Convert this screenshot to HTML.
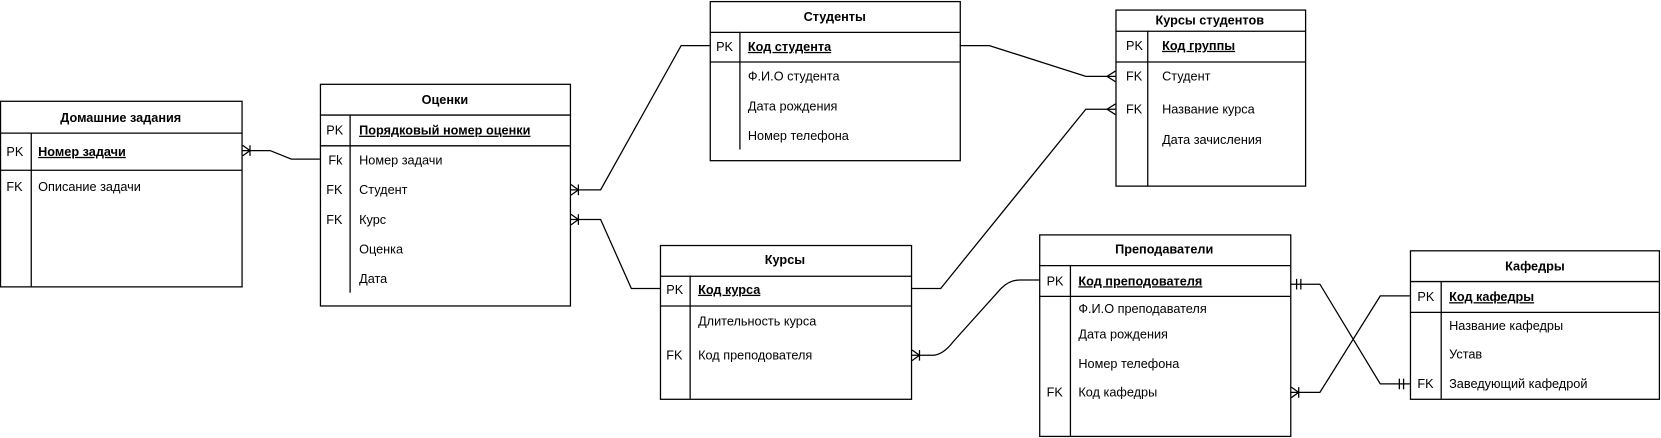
<!DOCTYPE html>
<html><head><meta charset="utf-8"><style>
html,body{margin:0;padding:0;background:#fff}
svg{display:block}
text{font-family:"Liberation Sans","Noto Sans CJK SC",sans-serif;font-size:12px;fill:#000}
.t{font-weight:bold;text-anchor:middle}
.pk{font-weight:bold;text-decoration:underline}
</style></head><body>
<svg width="1661" height="438" viewBox="0 0 1568 413" preserveAspectRatio="none" xmlns="http://www.w3.org/2000/svg">
<g fill="#fff" stroke="#000" stroke-width="1.2">
<rect x="0.5" y="95.5" width="228" height="175"/>
<line x1="0" y1="125.5" x2="228" y2="125.5"/><line x1="0" y1="160.5" x2="228" y2="160.5"/>
<line x1="29.5" y1="125" x2="29.5" y2="270"/>
<rect x="302.5" y="79.5" width="236" height="209"/>
<line x1="302" y1="108.5" x2="538" y2="108.5"/><line x1="302" y1="137.5" x2="538" y2="137.5"/>
<line x1="330.5" y1="108" x2="330.5" y2="276"/>
<rect x="670.5" y="1.5" width="236" height="150"/>
<line x1="670" y1="30.5" x2="906" y2="30.5"/><line x1="670" y1="58.5" x2="906" y2="58.5"/>
<line x1="698.5" y1="30" x2="698.5" y2="141"/>
<rect x="1053.5" y="9.5" width="179" height="166"/>
<line x1="1053" y1="29.5" x2="1232" y2="29.5"/><line x1="1053" y1="58.5" x2="1232" y2="58.5"/>
<line x1="1083.5" y1="29" x2="1083.5" y2="175"/>
<rect x="623.5" y="231.5" width="237" height="145"/>
<line x1="623" y1="260.5" x2="860" y2="260.5"/><line x1="623" y1="288.5" x2="860" y2="288.5"/>
<line x1="651.5" y1="260" x2="651.5" y2="376"/>
<rect x="981.5" y="221.5" width="237" height="190"/>
<line x1="981" y1="250.5" x2="1218" y2="250.5"/><line x1="981" y1="279.5" x2="1218" y2="279.5"/>
<line x1="1010.5" y1="250" x2="1010.5" y2="411"/>
<rect x="1331.5" y="236.5" width="235" height="140"/>
<line x1="1331" y1="265.5" x2="1566" y2="265.5"/><line x1="1331" y1="294.5" x2="1566" y2="294.5"/>
<line x1="1360.5" y1="265" x2="1360.5" y2="376"/>
</g>
<g fill="none" stroke="#000" stroke-width="1.2">
<polyline points="228,142 255,142 275,150 302,150"/>
<path d="M229,137 L236,142 L229,147 M236,137 V147"/>
<polyline points="538,179 567,179 643,43 670,43"/>
<path d="M539,174 L546,179 L539,184 M546,174 V184"/>
<polyline points="538,207 567,207 596,272 623,272"/>
<path d="M539,202 L546,207 L539,212 M546,202 V212"/>
<polyline points="906,43 934,43 1025,72 1053,72"/>
<path d="M1053,67 L1045,72 L1053,77"/>
<polyline points="860,272 888,272 1025,103 1053,103"/>
<path d="M1053,98 L1045,103 L1053,108"/>
<path d="M860,335 H880 Q890,335 900,322 L945,272 Q953,264 963,264 H981"/>
<path d="M861,330 L868,335 L861,340 M868,330 V340"/>
<polyline points="1218,268 1246,268 1303,362 1331,362"/>
<path d="M1224,263 V273 M1228,263 V273 M1325,357 V367 M1321,357 V367"/>
<polyline points="1218,370 1246,370 1303,279 1331,279"/>
<path d="M1219,365 L1226,370 L1219,375 M1226,365 V375"/>
</g>
<text class="t" x="114" y="115">Домашние задания</text>
<text x="6" y="147">PK</text><text class="pk" x="36" y="147">Номер задачи</text>
<text x="6" y="180">FK</text><text x="36" y="180">Описание задачи</text>

<text class="t" x="420" y="98">Оценки</text>
<text x="308" y="127">PK</text><text class="pk" x="339" y="127">Порядковый номер оценки</text>
<text x="310" y="155">Fk</text><text x="339" y="155">Номер задачи</text>
<text x="308" y="183">FK</text><text x="339" y="183">Студент</text>
<text x="308" y="211">FK</text><text x="339" y="211">Курс</text>
<text x="339" y="239">Оценка</text>
<text x="339" y="267">Дата</text>

<text class="t" x="788" y="20">Студенты</text>
<text x="676" y="48">PK</text><text class="pk" x="706" y="48">Код студента</text>
<text x="706" y="76">Ф.И.О студента</text>
<text x="706" y="104">Дата рождения</text>
<text x="706" y="132">Номер телефона</text>

<text class="t" x="1142" y="23">Курсы студентов</text>
<text x="1063" y="47">PK</text><text class="pk" x="1097" y="47">Код группы</text>
<text x="1063" y="76">FK</text><text x="1097" y="76">Студент</text>
<text x="1063" y="107">FK</text><text x="1097" y="107">Название курса</text>
<text x="1097" y="136">Дата зачисления</text>

<text class="t" x="741" y="249">Курсы</text>
<text x="629" y="277">PK</text><text class="pk" x="659" y="277">Код курса</text>
<text x="659" y="307">Длительность курса</text>
<text x="629" y="339">FK</text><text x="659" y="339">Код преподователя</text>

<text class="t" x="1099" y="239">Преподаватели</text>
<text x="988" y="269">PK</text><text class="pk" x="1018" y="269">Код преподователя</text>
<text x="1018" y="295">Ф.И.О преподавателя</text>
<text x="1018" y="319">Дата рождения</text>
<text x="1018" y="347">Номер телефона</text>
<text x="988" y="374">FK</text><text x="1018" y="374">Код кафедры</text>

<text class="t" x="1449" y="255">Кафедры</text>
<text x="1338" y="284">PK</text><text class="pk" x="1368" y="284">Код кафедры</text>
<text x="1368" y="311">Название кафедры</text>
<text x="1368" y="338">Устав</text>
<text x="1338" y="366">FK</text><text x="1368" y="366">Заведующий кафедрой</text>
</svg>
</body></html>
